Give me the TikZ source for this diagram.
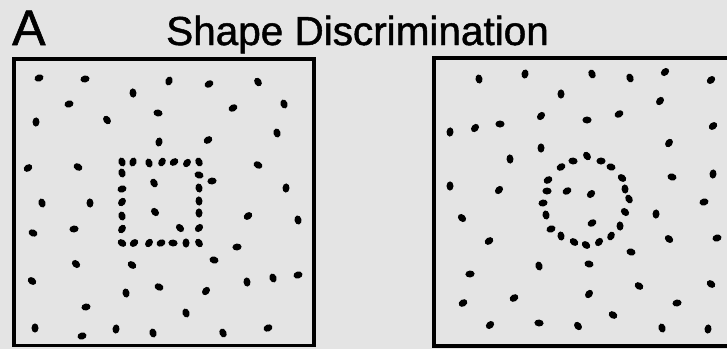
\documentclass[tikz,border=0pt]{standalone}
\usepackage{fontspec}
\setmainfont{Liberation Sans}[FakeBold=1.2]
\definecolor{bg}{RGB}{228,228,228}
\begin{document}
\begin{tikzpicture}[x=1pt,y=-1pt,
  frame/.style={line width=3.8pt},
  dotfill/.style={fill=black}]
\pgfmathsetseed{11}
\useasboundingbox (0,0) rectangle (727,349);
\fill[bg] (0,0) rectangle (727,349);
\node[anchor=base west,inner sep=0pt,font=\fontsize{50}{50}\selectfont] (lab) at (12,45) {A};
\node[anchor=base west,inner sep=0pt,font=\fontsize{40.5}{40}\selectfont] (title) at (166,45) {Shape Discrimination};
\clip (0,0) rectangle (727,349);
\draw[frame] (14,59) rectangle (314,345.5);
\draw[frame] (434,58) rectangle (745,346);
% left panel dots
\foreach \x/\y in {39/78,85/79,169/81,209/84,258/82,133/93,69/104,284/104,233/108,158/113,
  36/122,107/120,277/133,159/142,208/140,28/168,78/167,258/165,212/181,286/188,
  42/203,90/203,33/233,74/229,248/216,298/220,237/247,76/264,132/265,214/260,
  32/281,126/293,159/287,206/291,247/282,273/278,298/275,86/307,186/313,35/328,
  82/336,116/329,153/333,223/333,268/328,154/183,155/212,180/228,
  122/162,133/162,149/163,162/162,174/162,187/163,199/162,
  122/243,134/243,149/243,161/243,173/243,186/243,199/243,
  122/173,122/189,122/202,122/216,122/229,
  199/175,199/188,199/201,199/213,199/228}
{
  \pgfmathsetmacro\r{random(0,180)}
  \fill[dotfill,shift={(\x,\y)},rotate=\r] (0,0) ellipse (4.6pt and 3.5pt);
}
% right panel dots
\foreach \x/\y in {479/79,525/74,592/74,630/78,665/72,711/80,561/94,660/101,541/116,587/120,
  619/114,450/132,475/128,500/124,713/126,541/148,669/143,510/159,450/186,499/190,
  672/177,713/174,704/202,656/214,462/218,489/241,669/239,717/238,631/252,539/266,
  589/264,470/274,639/286,711/284,463/303,514/298,589/294,677/303,613/315,490/325,
  539/323,578/326,662/328,708/329,567/191,591/194,592/223,
  561/167,548/180,547/191,543/203,546/215,551/229,561/236,574/242,586/245,599/242,
  611/236,620/226,625/212,629/199,625/189,622/178,611/167,601/161,587/156,573/161}
{
  \pgfmathsetmacro\r{random(0,180)}
  \fill[dotfill,shift={(\x,\y)},rotate=\r] (0,0) ellipse (4.6pt and 3.5pt);
}
\end{tikzpicture}
\end{document}
